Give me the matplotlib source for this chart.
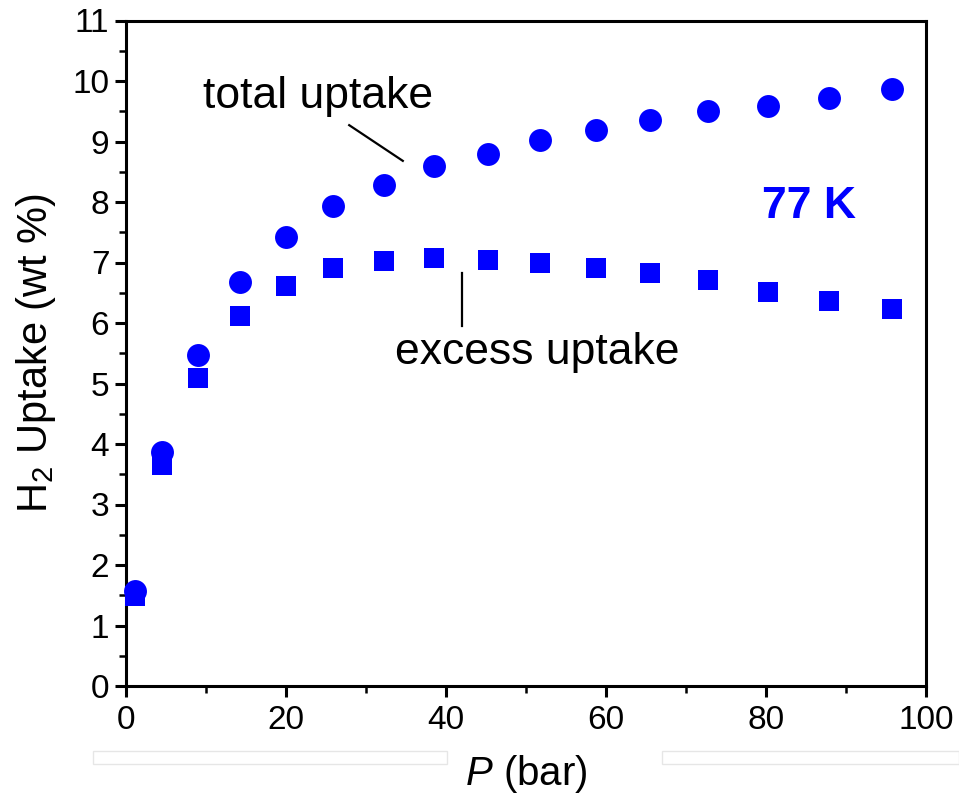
import matplotlib
matplotlib.use("Agg")
import matplotlib.pyplot as plt
from matplotlib.patches import Rectangle

# pressure (bar) and H2 uptake (wt %) at 77 K
pressure = [1.1, 4.5, 9.0, 14.25, 20.0, 25.9, 32.2, 38.5, 45.2, 51.8, 58.7, 65.5, 72.7, 80.2, 87.9, 95.8]
total_uptake = [1.57, 3.87, 5.47, 6.67, 7.42, 7.93, 8.28, 8.60, 8.80, 9.02, 9.19, 9.36, 9.51, 9.59, 9.72, 9.87]
excess_uptake = [1.48, 3.65, 5.09, 6.12, 6.61, 6.91, 7.02, 7.08, 7.04, 7.00, 6.91, 6.82, 6.71, 6.52, 6.36, 6.23]

x_ticks = [0, 20, 40, 60, 80, 100]
y_ticks = list(range(0, 12))

plt.rcParams['font.family'] = ['Liberation Sans', 'DejaVu Sans']
plt.rcParams['mathtext.fontset'] = 'custom'
plt.rcParams['mathtext.rm'] = 'Liberation Sans'
plt.rcParams['mathtext.it'] = 'Liberation Sans:italic'

fig = plt.figure(figsize=(9.59, 7.99), dpi=100)
ax = fig.add_axes([126/959, 1 - 686/799, 800/959, 665.5/799])

# faint scan artefacts below the axis
for x0, w in [(93, 354), (662, 297)]:
    fig.patches.append(Rectangle((x0/959, 1 - 764/799), w/959, 13/799, transform=fig.transFigure,
                                 facecolor='none', edgecolor='#e6e6e6', lw=1))

blue = '#0000ff'
ax.plot(pressure, total_uptake, 'o', color=blue, markersize=16.5, markeredgewidth=0, clip_on=False, zorder=3)
ax.plot(pressure, excess_uptake, 's', color=blue, markersize=14.5, markeredgewidth=0, clip_on=False, zorder=3)

ax.set_xlim(0, 100)
ax.set_ylim(0, 11)
ax.set_xticks(x_ticks)
ax.set_yticks(y_ticks)
ax.set_xticks([10, 30, 50, 70, 90], minor=True)
ax.set_yticks([i + 0.5 for i in range(11)], minor=True)

for s in ax.spines.values():
    s.set_linewidth(2.2)
ax.tick_params(which='major', direction='out', length=8, width=2.2, labelsize=24)
ax.tick_params(axis='y', which='major', pad=4)
ax.tick_params(axis='x', which='major', pad=6)
ax.tick_params(which='minor', direction='out', length=5, width=1.8)

ax.set_xlabel('$P$ (bar)', fontsize=29, labelpad=12)
ax.set_ylabel('H$_2$ Uptake (wt %)', fontsize=30, labelpad=10)

# annotations
ax.text(24, 9.74, 'total uptake', fontsize=32, ha='center', va='center')
ax.plot([27.9, 34.6], [9.27, 8.68], color='black', lw=1.6)
ax.text(51.4, 5.52, 'excess uptake', fontsize=32, ha='center', va='center')
ax.plot([42.0, 42.0], [6.83, 5.95], color='black', lw=1.6)
ax.text(85.4, 7.92, '77 K', fontsize=32, fontweight='bold', color=blue, ha='center', va='center')

fig.savefig('out.png', dpi=100)
